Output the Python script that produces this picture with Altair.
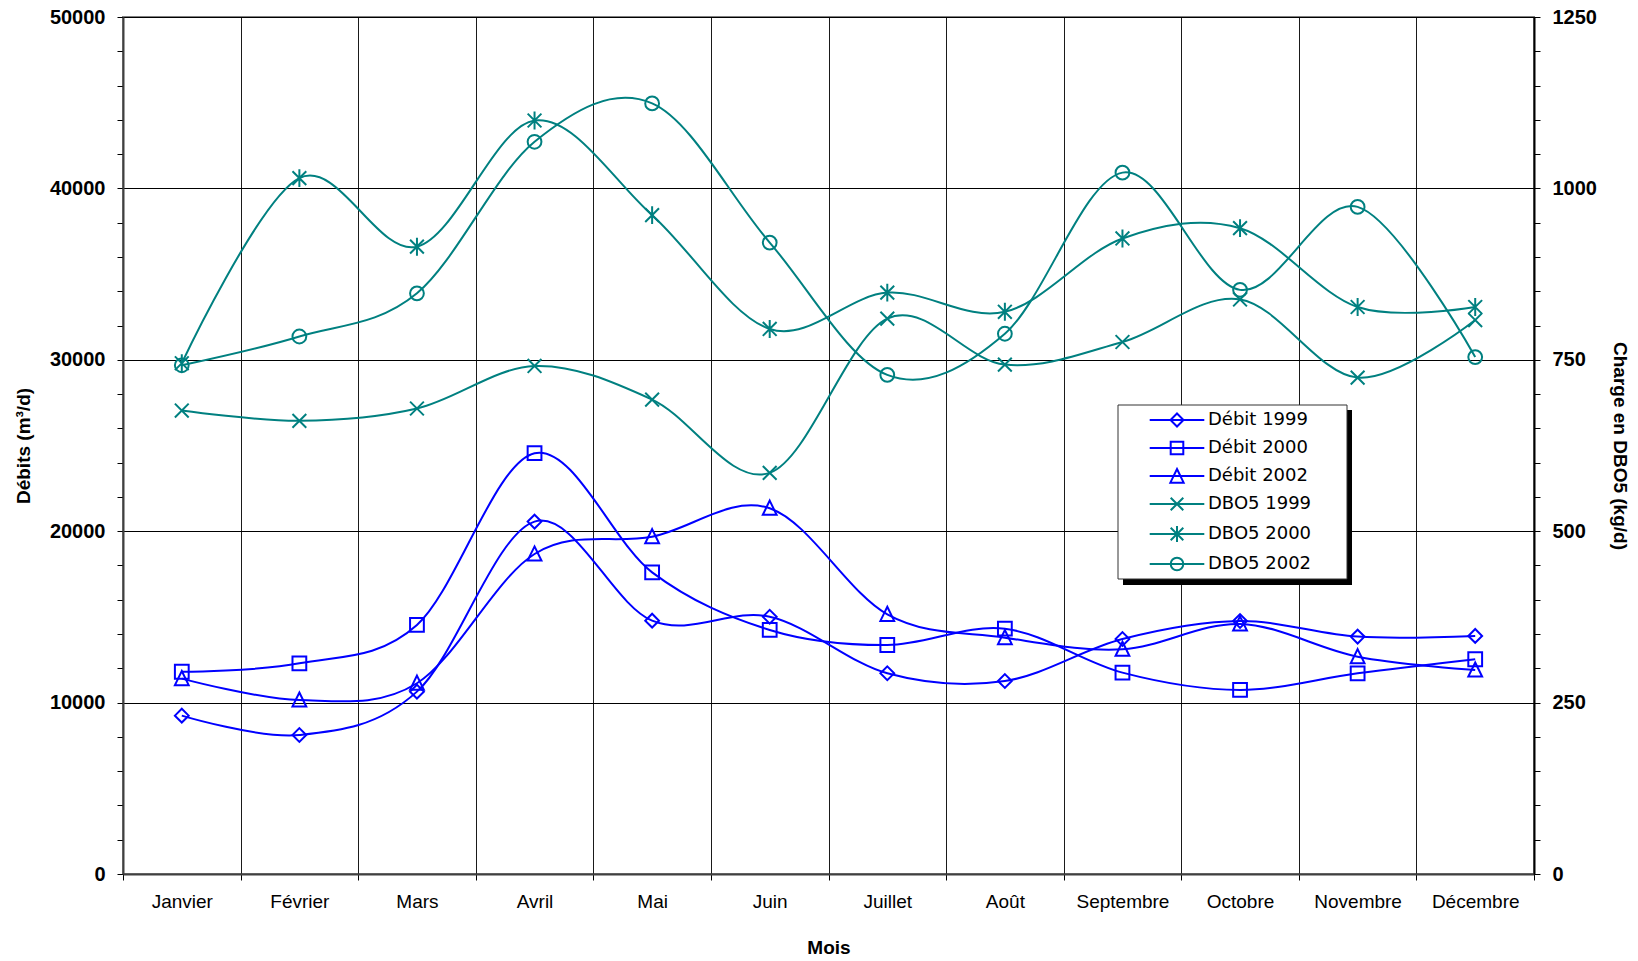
import altair as alt
import pandas as pd

months = ["Janvier", "Février", "Mars", "Avril", "Mai", "Juin", "Juillet",
          "Août", "Septembre", "Octobre", "Novembre", "Décembre"]

debit_series = ["Débit 1999", "Débit 2000", "Débit 2002"]
dbo_series = ["DBO5 1999", "DBO5 2000", "DBO5 2002"]
all_series = debit_series + dbo_series

# Débits (m3/d) - left axis
debit_1999 = [9240, 8110, 10640, 20560, 14780, 15010, 11710, 11260, 13710, 14760, 13850, 13890]
debit_2000 = [11800, 12290, 14530, 24550, 17600, 14240, 13360, 14310, 11750, 10740, 11710, 12530]
debit_2002 = [11400, 10150, 11130, 18670, 19680, 21340, 15150, 13790, 13110, 14590, 12680, 11900]

# Charge en DBO5 (kg/d) - right axis
dbo_1999 = [676, 661, 679, 741, 692, 585, 810, 743, 776, 838, 724, 808]
dbo_2000 = [745, 1015, 915, 1099, 961, 795, 848, 820, 927, 942, 827, 827]
dbo_2002 = [742, 784, 847, 1068, 1124, 921, 728, 788, 1023, 852, 973, 754]

colors = ["#0000ff", "#0000ff", "#0000ff", "#008080", "#008080", "#008080"]

marker_shapes = [
    "M0,-1L1,0L0,1L-1,0Z",                      # diamond
    "M-1,-1L1,-1L1,1L-1,1Z",                    # square
    "M0,-1.1L1,0.95L-1,0.95Z",                  # triangle
    "M-1,-1L1,1M-1,1L1,-1",                     # x
    "M-1,-1L1,1M-1,1L1,-1M0,-1.3L0,1.3",        # asterisk
    "circle",                                   # circle
]
legend_shapes = [
    "M-3.9,0L3.9,0M0,-0.93L0.93,0L0,0.93L-0.93,0Z",
    "M-3.9,0L3.9,0M-0.9,-0.9L0.9,-0.9L0.9,0.9L-0.9,0.9Z",
    "M-3.9,0L3.9,0M0,-1.0L0.95,0.95L-0.95,0.95Z",
    "M-3.9,0L3.9,0M-0.9,-0.9L0.9,0.9M-0.9,0.9L0.9,-0.9",
    "M-3.9,0L3.9,0M-0.9,-0.9L0.9,0.9M-0.9,0.9L0.9,-0.9M0,-1.15L0,1.15",
    "M-3.9,0L3.9,0M0.9,0A0.9,0.9,0,1,1,-0.9,0A0.9,0.9,0,1,1,0.9,0Z",
]

debit_df = pd.DataFrame({
    "Mois": months * 3,
    "series": [s for s in debit_series for _ in months],
    "value": debit_1999 + debit_2000 + debit_2002,
})
dbo_df = pd.DataFrame({
    "Mois": months * 3,
    "series": [s for s in dbo_series for _ in months],
    "value": dbo_1999 + dbo_2000 + dbo_2002,
})
legend_df = pd.DataFrame({"series": all_series})

LABEL_FONT = "Liberation Sans"

x_axis = alt.Axis(
    title="Mois", tickBand="extent", grid=True, gridColor="#1a1a1a", gridWidth=1,
    labelAngle=0, labelFont=LABEL_FONT, labelFontSize=19, labelColor="black",
    labelPadding=12, tickSize=6, tickColor="black", tickWidth=1,
    domainColor="#404040", domainWidth=2,
    titleFont=LABEL_FONT, titleFontSize=19, titleFontWeight="bold", titleColor="black",
    titleX=705.5, titleY=73, titleAlign="center", titleBaseline="middle",
)
x_enc = alt.X("Mois:N", sort=months,
              scale=alt.Scale(type="band", domain=months, paddingInner=0, paddingOuter=0),
              axis=x_axis)

left_axis = alt.Axis(
    title="Débits (m³/d)", orient="left", values=list(range(0, 50001, 2000)), format="d",
    labelExpr="datum.value % 10000 === 0 ? datum.label : ''",
    labelOverlap=False, labelFlush=False,
    grid=True, gridColor="black", gridWidth=1,
    gridOpacity={"condition": {"test": "datum.value % 10000 === 0", "value": 1}, "value": 0},
    labelFont=LABEL_FONT, labelFontSize=20, labelFontWeight="bold", labelColor="black",
    labelPadding=12, tickSize=6, tickColor="black", domainColor="#404040", domainWidth=2,
    titleFont=LABEL_FONT, titleFontSize=19, titleFontWeight="bold", titleColor="black",
    titleAngle=-90, titleX=-100, titleY=428.5, titleAlign="center", titleBaseline="middle",
)
right_axis = alt.Axis(
    title="Charge en DBO5 (kg/d)", orient="right", values=list(range(0, 1251, 50)), format="d",
    labelExpr="datum.value % 250 === 0 ? datum.label : ''",
    labelOverlap=False, labelFlush=False, grid=False,
    labelFont=LABEL_FONT, labelFontSize=20, labelFontWeight="bold", labelColor="black",
    labelPadding=12, tickSize=6, tickColor="black", domainColor="black", domainWidth=2,
    titleFont=LABEL_FONT, titleFontSize=19, titleFontWeight="bold", titleColor="black",
    titleAngle=90, titleX=85, titleY=428.5, titleAlign="center", titleBaseline="middle",
)

color_scale = alt.Scale(domain=all_series, range=colors)
shape_scale = alt.Scale(domain=all_series, range=marker_shapes)

debit_y = alt.Scale(domain=[0, 50000], nice=False)
dbo_y = alt.Scale(domain=[0, 1250], nice=False)

debit_lines = alt.Chart(debit_df).mark_line(interpolate="cardinal", strokeWidth=2).encode(
    x=x_enc,
    y=alt.Y("value:Q", scale=debit_y, axis=left_axis),
    color=alt.Color("series:N", scale=color_scale, legend=None),
    detail="series:N",
)
debit_points = alt.Chart(debit_df).mark_point(filled=False, strokeWidth=2, size=190, opacity=1).encode(
    x=x_enc,
    y=alt.Y("value:Q", scale=debit_y, axis=None),
    color=alt.Color("series:N", scale=color_scale, legend=None),
    shape=alt.Shape("series:N", scale=shape_scale, legend=None),
)
dbo_lines = alt.Chart(dbo_df).mark_line(interpolate="cardinal", strokeWidth=2).encode(
    x=x_enc,
    y=alt.Y("value:Q", scale=dbo_y, axis=right_axis),
    color=alt.Color("series:N", scale=color_scale, legend=None),
    detail="series:N",
)
dbo_points = alt.Chart(dbo_df).mark_point(filled=False, strokeWidth=2, size=190, opacity=1).encode(
    x=x_enc,
    y=alt.Y("value:Q", scale=dbo_y, axis=None),
    color=alt.Color("series:N", scale=color_scale, legend=None),
    shape=alt.Shape("series:N", scale=shape_scale, legend=None),
)

box_df = pd.DataFrame({"k": [0]})
legend_shadow = alt.Chart(box_df).mark_rect(color="black").encode(
    x=alt.value(1000), x2=alt.value(1229), y=alt.value(393), y2=alt.value(568)
)
legend_box = alt.Chart(box_df).mark_rect(fill="white", stroke="#333333", strokeWidth=1).encode(
    x=alt.value(995), x2=alt.value(1224), y=alt.value(388), y2=alt.value(562)
)

legend_cfg = dict(
    title=None, orient="none", legendX=1045, legendY=394, padding=0,
    symbolSize=196, symbolStrokeWidth=2, symbolOpacity=1, symbolFillColor="transparent",
    labelFont="DejaVu Sans", labelFontSize=18, labelColor="black", labelOffset=22,
    rowPadding=6, labelBaseline="middle",
)
legend_layer = alt.Chart(legend_df).mark_point(filled=False, opacity=0, size=196).encode(
    color=alt.Color("series:N", scale=alt.Scale(domain=all_series, range=colors),
                    legend=alt.Legend(**legend_cfg)),
    shape=alt.Shape("series:N", scale=alt.Scale(domain=all_series, range=legend_shapes),
                    legend=alt.Legend(**legend_cfg)),
)

chart = alt.layer(
    debit_lines, debit_points, dbo_lines, dbo_points, legend_shadow, legend_box, legend_layer
).resolve_scale(
    y="independent", color="independent", shape="independent"
).properties(
    width=1411, height=857,
    autosize=alt.AutoSizeParams(type="none"),
    padding={"left": 123, "top": 17, "right": 104, "bottom": 87},
    background="white",
).configure_view(
    fill="#d8d8d8", stroke="#808080", strokeWidth=2
)

chart.save("out.html", embed_options={"renderer": "svg", "actions": False})
